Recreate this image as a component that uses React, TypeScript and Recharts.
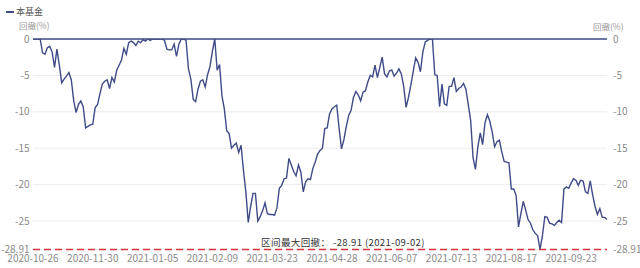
import React from 'react';
import { LineChart, Line, XAxis, YAxis, CartesianGrid, ReferenceLine } from 'recharts';

const seriesName = '本基金';
const unitLabel = '回撤(%)';
const tickLabels = ['2020-10-26', '2020-11-30', '2021-01-05', '2021-02-09', '2021-03-23', '2021-04-28', '2021-06-07', '2021-07-13', '2021-08-17', '2021-09-23'];
const tickIndices = [0, 25, 50, 75, 100, 125, 150, 175, 200, 225];
const yTicks = [0, -5, -10, -15, -20, -25, -28.91];
const maxDrawdown = -28.91;
const maxDrawdownDate = '2021-09-02';

const drawdown = [
  0, 0, 0, 0, -1.9, -2.1, -1.2, -1.0, -1.8, -3.9,
  -1.4, -3.6, -6.0, -5.5, -5.1, -4.6, -5.6, -8.4, -10.1, -9.0,
  -8.5, -9.3, -12.2, -12.0, -11.8, -11.7, -9.4, -9.0, -7.5, -6.2,
  -5.8, -5.6, -6.8, -5.3, -5.9, -4.3, -3.6, -2.9, -1.3, -2.1,
  -0.5, -0.3, -0.5, -0.9, -0.3, -0.5, -0.1, -0.3, 0, -0.2,
  0, 0, 0, 0, 0, -0.2, -1.4, -1.5, -1.5, -0.7,
  -2.4, -0.7, 0, 0, -0.2, -4.1, -5.5, -8.3, -8.6, -6.9,
  -5.8, -5.6, -6.6, -4.9, -3.8, -1.7, 0, -4.3, -3.5, -7.8,
  -9.6, -12.6, -13.0, -15.0, -14.6, -14.3, -15.6, -14.6, -18.1, -21.0,
  -25.2, -23.0, -21.2, -21.2, -25.0, -24.4, -23.6, -22.5, -24.0, -24.1,
  -24.1, -24.2, -23.2, -20.5, -20.1, -19.2, -19.1, -16.4, -17.3, -18.2,
  -18.8, -17.3, -18.3, -21.0, -19.6, -19.2, -19.3, -17.8, -16.9, -15.8,
  -15.3, -15.0, -12.3, -12.2, -10.3, -9.6, -9.3, -9.1, -12.3, -15.1,
  -13.8, -12.0, -10.5, -9.8, -8.0, -7.2, -7.7, -8.5, -7.3, -7.1,
  -5.9, -5.0, -5.2, -3.6, -5.3, -3.9, -2.5, -4.8, -5.2, -4.4,
  -4.25, -5.1, -4.7, -4.1, -4.8, -6.5, -9.4, -8.0, -6.3, -4.4,
  -2.6, -3.2, -4.5, -1.8, -0.4, -0.2, 0, 0, -4.9, -5.0,
  -9.3, -6.2, -8.9, -9.1, -6.5, -6.5, -5.3, -7.2, -6.8, -6.6,
  -6.1, -6.9, -9.0, -11.2, -16.3, -17.9, -14.8, -12.9, -14.5, -11.5,
  -10.4, -11.3, -12.8, -14.8, -14.1, -13.9, -15.5, -16.8, -16.9, -17.0,
  -20.6, -20.6, -21.5, -25.8, -24.0, -22.3, -23.5, -24.8, -25.3, -26.2,
  -26.7, -27.0, -28.91, -27.0, -24.4, -24.5, -25.3, -25.4, -25.6, -25.2,
  -24.9, -25.2, -20.6, -20.3, -20.5, -19.8, -19.2, -19.4, -20.1, -19.4,
  -19.5, -21.0, -21.2, -19.5, -21.4, -23.0, -24.1, -23.3, -24.5, -24.5,
  -24.8,
];

const data = drawdown.map((v, i) => ({ i, v }));

const LINE_COLOR = '#3f4a87';
const RED = '#d6353a';
const FONT = "'Liberation Sans Narrow', 'Noto Sans CJK SC', sans-serif";
const CJK_FONT = "'Noto Sans CJK SC', sans-serif";
const AXIS_TEXT = '#8a8a8a';

const MaxLabel = (props: any) => {
  const vb = props.viewBox || {};
  const cx = vb.x + vb.width / 2 + 23;
  return (
    <text x={cx} y={vb.y - 4} textAnchor="middle" fontSize={9.5} letterSpacing={0.4} fontFamily={CJK_FONT} fill="#333">
      {`区间最大回撤： ${maxDrawdown}  (${maxDrawdownDate})`}
    </text>
  );
};

export default function App() {
  return (
    <div style={{ position: 'absolute', left: 0, top: 0, width: 640, height: 268, background: '#fff' }}>
      <div style={{ position: 'absolute', left: 6, top: 5, display: 'flex', alignItems: 'center', fontFamily: CJK_FONT, fontSize: 9, color: '#555', lineHeight: '14px' }}>
        <span style={{ display: 'inline-block', width: 8, height: 2, background: LINE_COLOR, marginRight: 2 }} />
        <span>{seriesName}</span>
      </div>
      <div style={{ position: 'absolute', left: 19, top: 19, fontFamily: CJK_FONT, fontSize: 8.5, color: '#999', lineHeight: '12px' }}>{unitLabel}</div>
      <div style={{ position: 'absolute', left: 593, top: 20, fontFamily: CJK_FONT, fontSize: 8.5, color: '#999', lineHeight: '12px' }}>{unitLabel}</div>
      <LineChart width={640} height={268} data={data} margin={{ top: 39, right: 0, bottom: 0, left: 0 }}>
        <CartesianGrid vertical={false} stroke="#ececec" yAxisId="l" />
        <XAxis
          dataKey="i"
          type="number"
          domain={[0, drawdown.length - 1]}
          ticks={tickIndices}
          tickFormatter={(i: number) => tickLabels[tickIndices.indexOf(i)]}
          axisLine={false}
          tickLine={false}
          tickSize={0}
          tickMargin={5}
          height={18.5}
          interval={0}
          tick={{ fontSize: 10, fill: AXIS_TEXT, fontFamily: FONT }}
        />
        <YAxis
          yAxisId="l"
          orientation="left"
          width={33}
          domain={[maxDrawdown, 0]}
          ticks={yTicks}
          allowDataOverflow
          interval={0}
          axisLine={false}
          tickLine={false}
          tickSize={0}
          tickMargin={3.5}
          tick={{ fontSize: 10, fill: AXIS_TEXT, fontFamily: FONT }}
        />
        <YAxis
          yAxisId="r"
          orientation="right"
          width={33}
          domain={[maxDrawdown, 0]}
          ticks={yTicks}
          allowDataOverflow
          interval={0}
          axisLine={false}
          tickLine={false}
          tickSize={0}
          tickMargin={6}
          tick={{ fontSize: 10, fill: AXIS_TEXT, fontFamily: FONT }}
        />
        <ReferenceLine yAxisId="l" y={0} stroke={LINE_COLOR} strokeWidth={1.5} />
        <ReferenceLine yAxisId="l" y={maxDrawdown} stroke={RED} strokeWidth={1.5} strokeDasharray="7 4" label={<MaxLabel />} />
        <Line yAxisId="l" type="linear" dataKey="v" stroke={LINE_COLOR} strokeWidth={1.4} dot={false} isAnimationActive={false} name={seriesName} />
        <Line yAxisId="r" type="linear" dataKey="v" stroke="none" dot={false} activeDot={false} isAnimationActive={false} legendType="none" />
      </LineChart>
    </div>
  );
}
